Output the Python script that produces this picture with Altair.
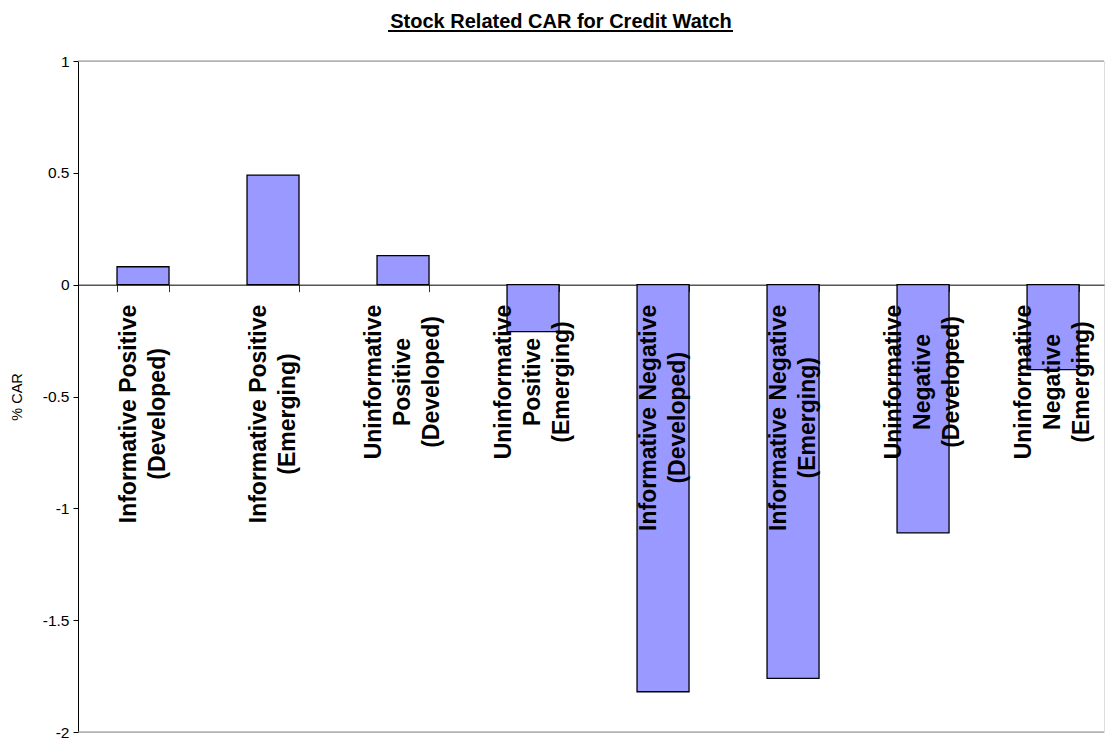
import altair as alt
import pandas as pd

# ---- data ----
categories = [
    "Informative Positive\n(Developed)",
    "Informative Positive\n(Emerging)",
    "Uninformative\nPositive\n(Developed)",
    "Uninformative\nPositive\n(Emerging)",
    "Informative Negative\n(Developed)",
    "Informative Negative\n(Emerging)",
    "Uninformative\nNegative\n(Developed)",
    "Uninformative\nNegative\n(Emerging)",
]
car_values = [0.08, 0.49, 0.13, -0.21, -1.82, -1.76, -1.11, -0.38]
y_ticks = [-2, -1.5, -1, -0.5, 0, 0.5, 1]

# ---- layout constants ----
PLOT_W = 1026
PLOT_H = 671
Y_MIN, Y_MAX = -2, 1
LABEL_FONT = 23
LINE_H = 29
LABEL_PAD = 20  # px gap between zero line and end of longest label line

# Arial/Liberation Sans Bold advance widths (per em) for measuring labels
BOLD_W = {
    " ": 0.278, "(": 0.333, ")": 0.333, "D": 0.722, "E": 0.667, "I": 0.278,
    "N": 0.722, "P": 0.667, "U": 0.722, "a": 0.556, "d": 0.611, "e": 0.556,
    "f": 0.333, "g": 0.611, "i": 0.278, "l": 0.278, "m": 0.889, "n": 0.611,
    "o": 0.611, "p": 0.611, "r": 0.389, "s": 0.556, "t": 0.333, "v": 0.556,
}


def text_px(s):
    return sum(BOLD_W.get(c, 0.556) for c in s) * LABEL_FONT


df = pd.DataFrame({"cat": categories, "car": car_values})
df["tw"] = [max(text_px(line) for line in c.split("\n")) for c in categories]
df["nl"] = [len(c.split("\n")) for c in categories]

ppu = PLOT_H / (Y_MAX - Y_MIN)

x_scale = alt.Scale(domain=categories, paddingInner=0.6, paddingOuter=0.246, align=0.61)
y_scale = alt.Scale(domain=[Y_MIN, Y_MAX], nice=False, zero=False)

x_enc = alt.X(
    "cat:N",
    scale=x_scale,
    sort=categories,
    axis=alt.Axis(
        title=None,
        labels=False,
        orient="bottom",
        offset=-(PLOT_H * (0 - Y_MIN) / (Y_MAX - Y_MIN)),
        domainColor="black",
        domainWidth=1,
        tickBand="extent",
        tickSize=7,
        tickColor="#333333",
        tickWidth=1,
    ),
)

y_enc = alt.Y(
    "car:Q",
    scale=y_scale,
    axis=alt.Axis(
        title="% CAR",
        values=y_ticks,
        labelExpr="'' + datum.value",
        labelFont="Liberation Sans",
        labelFontSize=15.5,
        labelColor="black",
        labelPadding=4,
        tickSize=5,
        tickColor="black",
        domainColor="black",
        domainWidth=1,
        grid=False,
        titleFont="Liberation Sans",
        titleFontSize=14.5,
        titleFontWeight="normal",
        titleColor="black",
        titlePadding=18,
    ),
)

bars = alt.Chart(df).mark_bar(
    fill="#9999FF", stroke="black", strokeWidth=1.3
).encode(x=x_enc, y=y_enc)

borders = alt.Chart(pd.DataFrame({"b": [Y_MIN, Y_MAX]})).mark_rule(
    color="#8c8c8c", strokeWidth=1
).encode(y=alt.Y("b:Q", scale=y_scale))


def label_layer(n_lines):
    # multi-line block centred on the band: shift first line back by half the block
    return alt.Chart(df).transform_filter(
        f"datum.nl == {n_lines}"
    ).transform_calculate(
        ly=f"-({LABEL_PAD} + datum.tw / 2) / {ppu}"
    ).mark_text(
        angle=270,
        align="center",
        baseline="middle",
        font="Liberation Sans",
        fontWeight="bold",
        fontSize=LABEL_FONT,
        lineHeight=LINE_H,
        lineBreak="\n",
        color="black",
        dy=-(n_lines - 1) * LINE_H / 2,
    ).encode(
        x=alt.X("cat:N", scale=x_scale, sort=categories),
        y=alt.Y("ly:Q", scale=y_scale),
        text="cat:N",
    )


underline = alt.Chart(df).mark_rule(color="black", strokeWidth=1.6).encode(
    x=alt.value(310), x2=alt.value(655), y=alt.value(-30)
)

chart = alt.layer(bars, borders, label_layer(2), label_layer(3), underline).properties(
    width=PLOT_W,
    height=PLOT_H,
    title=alt.Title(
        "Stock Related CAR for Credit Watch",
        font="Liberation Sans",
        fontSize=20,
        fontWeight="bold",
        color="black",
        anchor="middle",
        dx=-30,
        dy=8,
        offset=6,
    ),
    autosize=alt.AutoSizeParams(type="none"),
    padding={"left": 78, "top": 61, "right": 2, "bottom": 8},
).configure_view(stroke=None).configure(background="white")

chart.save("out.html", embed_options={"renderer": "svg", "actions": False})
